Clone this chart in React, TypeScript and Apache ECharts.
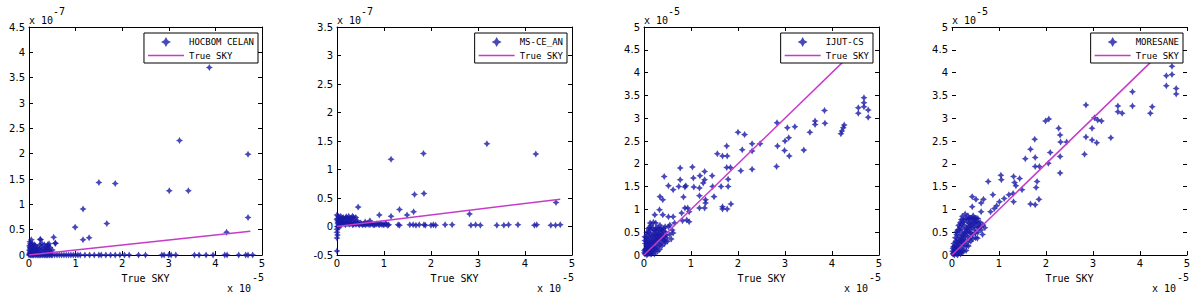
import React, { useEffect, useRef } from "react";
import * as echarts from "echarts";

// ---------- data (display units: x in 1e-5, y in 1e-7 / 1e-5) ----------
const PANEL_NAMES = ["HOCBOM CELAN", "MS-CE_AN", "IJUT-CS", "MORESANE"];
const X_NAME = "True SKY";
const X_TICKS_MIN = 0;
const X_TICKS_MAX = 5;
const X_TICK_STEP = 1;
const Y_MIN = [0, -0.5, 0, 0];
const Y_MAX = [4.5, 3.5, 5, 5];
const Y_STEP = 0.5;
const Y_EXP = ["-7", "-7", "-5", "-5"];
const X_EXP = "-5";

// HOCBOM CELAN
const hocbomPoints = [
  [3.87, 3.7], [3.23, 2.26], [4.7, 1.99], [1.5, 1.43], [1.85, 1.41], [3.01, 1.27], [3.42, 1.27],
  [1.16, 0.91], [1.67, 0.62], [0.99, 0.55], [4.7, 0.74], [4.24, 0.45], [0.53, 0.35], [1.16, 0.3],
  [1.29, 0.34], [0.57, 0.23], [0.25, 0.3],
  [0.02, 0.26], [0.03, 0.22], [0.05, 0.18], [0.08, 0.2], [0.04, 0.12], [0.1, 0.15], [0.13, 0.13],
  [0.15, 0.08], [0.2, 0.05], [0.24, 0.31], [0.27, 0.1], [0.3, 0.06], [0.33, 0.2], [0.38, 0.13],
  [0.41, 0.18], [0.44, 0.1], [0.42, 0.05], [0.36, 0.16], [0.56, 0.23], [0.02, 0.05], [0.06, 0.08],
  [0.1, 0.03], [0.01, 0.1], [0.12, 0.2], [0.18, 0.12], [0.35, 0.03], [0.4, 0.2], [0.05, 0.3],
  [0.45, 0.15], [0.08, 0.02], [0.01, 0.18], [0.02, 0.14],
  [0.01, 0.02], [0.02, 0.08], [0.03, 0.15], [0.04, 0.2], [0.05, 0.06], [0.06, 0.14], [0.07, 0.22],
  [0.09, 0.1], [0.11, 0.06], [0.12, 0.12], [0.14, 0.18], [0.16, 0.04], [0.17, 0.14], [0.19, 0.09],
  [0.22, 0.12], [0.23, 0.2], [0.26, 0.16], [0.28, 0.22], [0.31, 0.12], [0.34, 0.1], [0.37, 0.08],
  [0.39, 0.14], [0.43, 0.22], [0.47, 0.06], [0.5, 0.1], [0.02, 0.02], [0.04, 0.03], [0.07, 0.04],
  [0.15, 0.02], [0.25, 0.03],
];
const hocbomZeroX = [
  0.0, 0.03, 0.05, 0.08, 0.1, 0.13, 0.15, 0.18, 0.2, 0.23, 0.25, 0.28, 0.3, 0.33, 0.35, 0.38, 0.4,
  0.43, 0.45, 0.48, 0.5, 0.55, 0.6, 0.65, 0.7, 0.75, 0.8, 0.85, 0.9, 0.95,
  1.0, 1.05, 1.1, 1.2, 1.3, 1.4, 1.5, 1.55, 1.65, 1.75, 1.85, 1.95, 2.05, 2.15, 2.35, 2.5, 2.85,
  2.9, 3.0, 3.05, 3.15, 3.55, 3.65, 3.8, 3.95, 4.2, 4.25, 4.5, 4.65, 4.7, 4.8,
];
const hocbomTrue = [[0, 0], [4.75, 0.47]];

// MS-CLEAN
const msPoints = [
  [1.15, 1.18], [1.84, 1.28], [4.23, 1.27], [3.19, 1.45], [1.65, 0.56], [1.85, 0.58], [0.45, 0.34],
  [1.33, 0.3], [0.9, 0.2], [1.15, 0.18], [1.49, 0.2], [1.63, 0.26], [2.82, 0.22], [4.66, 0.42],
  [0.0, -0.43],
  [0.02, 0.05], [0.05, 0.03], [0.08, 0.06], [0.1, 0.04], [0.12, 0.08], [0.15, 0.05], [0.18, 0.03],
  [0.2, 0.07], [0.23, 0.05], [0.26, 0.04], [0.3, 0.06], [0.33, 0.03], [0.36, 0.05], [0.4, 0.04],
  [0.44, 0.06], [0.48, 0.03], [0.52, 0.05], [0.56, 0.04], [0.6, 0.03], [0.65, 0.05], [0.7, 0.03],
  [0.75, 0.04], [0.8, 0.03], [0.85, 0.05], [0.9, 0.03], [0.95, 0.04], [1.0, 0.03], [1.05, 0.04],
  [1.1, 0.03],
  [0.03, 0.07], [0.06, 0.06], [0.09, 0.08], [0.11, 0.06], [0.14, 0.07], [0.17, 0.06], [0.19, 0.05],
  [0.22, 0.07], [0.25, 0.06], [0.28, 0.05], [0.32, 0.07], [0.35, 0.04], [0.38, 0.06], [0.42, 0.05],
  [0.46, 0.04], [0.5, 0.06], [0.54, 0.03], [0.58, 0.05], [0.62, 0.04], [0.67, 0.04], [0.72, 0.05],
  [0.78, 0.03], [0.83, 0.04], [0.88, 0.04], [0.93, 0.05], [0.98, 0.03], [1.03, 0.05], [1.08, 0.02],
  [0.02, 0.0], [0.04, -0.02], [0.01, 0.14], [0.03, 0.18], [0.06, 0.12], [0.12, 0.14], [0.18, 0.15],
  [0.26, 0.13], [0.35, 0.16],
  [0.05, 0.15], [0.08, 0.18], [0.1, 0.12], [0.13, 0.16], [0.16, 0.1], [0.2, 0.17], [0.22, 0.13],
  [0.25, 0.18], [0.28, 0.11], [0.3, 0.15], [0.33, 0.18], [0.36, 0.12], [0.4, 0.16], [0.43, 0.1],
  [0.03, 0.1], [0.6, 0.08], [0.7, 0.1],
  [0.0, 0.2], [0.0, 0.12], [0.01, 0.0], [0.0, -0.05], [0.0, -0.1], [0.01, -0.15], [0.0, -0.2],
  [0.02, 0.08],
  [1.3, 0.03], [1.33, 0.02], [1.55, 0.03], [1.62, 0.03], [1.68, 0.02], [1.75, 0.03], [1.85, 0.03],
  [1.88, 0.02], [2.0, 0.02], [2.05, 0.03], [2.1, 0.02], [2.3, 0.03], [2.45, 0.03], [2.85, 0.02],
  [2.95, 0.03], [3.05, 0.02], [3.4, 0.02], [3.55, 0.02], [3.65, 0.03], [3.85, 0.03], [4.2, 0.02],
  [4.25, 0.03], [4.55, 0.02], [4.65, 0.02], [4.75, 0.03],
];
const msTrue = [[0, 0], [4.75, 0.48]];

// IUWT-CS
const iuwtPoints = [
  [4.68, 3.45], [4.68, 3.34], [4.68, 3.25], [4.56, 3.23], [4.56, 3.11], [4.77, 3.18], [4.77, 3.02],
  [4.26, 2.85], [4.24, 2.79], [4.21, 2.72], [4.19, 2.66], [3.84, 3.17], [3.85, 2.89], [3.64, 2.94],
  [3.64, 2.86], [3.53, 2.69], [3.4, 2.3], [3.21, 2.81], [3.05, 2.79], [3.08, 2.57], [3.0, 2.5],
  [2.99, 2.29], [3.09, 2.17], [2.84, 2.39], [2.83, 2.9], [2.82, 1.94], [2.3, 2.44], [2.3, 2.28],
  [2.3, 1.88], [2.47, 2.44], [2.0, 2.69], [2.14, 2.64], [2.09, 2.31], [2.06, 1.85], [1.76, 2.39],
  [1.67, 2.17], [1.77, 2.17], [1.56, 2.22], [1.76, 1.92], [1.84, 1.92], [1.79, 1.66], [1.79, 1.5],
  [1.64, 1.5], [1.67, 1.06], [1.67, 1.01], [1.77, 1.01], [1.85, 1.12], [1.49, 1.28], [1.45, 1.74],
  [1.46, 1.5], [1.29, 1.83], [1.29, 1.65], [1.19, 1.74], [1.18, 1.47], [1.18, 1.3], [1.26, 1.58],
  [1.31, 1.21], [1.31, 1.14], [1.29, 1.03], [1.18, 1.03], [1.03, 1.93], [1.05, 1.69], [1.06, 1.49],
  [0.89, 1.52], [0.87, 1.49], [0.77, 1.65], [0.77, 1.91], [0.74, 1.5], [0.62, 1.43], [0.52, 1.52],
  [0.43, 1.72], [0.84, 1.27], [0.87, 1.03], [0.93, 1.03], [0.96, 0.95], [0.91, 0.77], [0.96, 0.73],
  [0.8, 0.92], [0.82, 0.75], [0.62, 0.84], [0.65, 0.7], [0.52, 0.84], [0.55, 0.66], [0.34, 1.28],
  [0.4, 1.21], [0.33, 0.99], [0.23, 0.88], [0.4, 0.88], [0.2, 0.72], [0.13, 0.7],
  [0.02, 0.02], [0.03, 0.08], [0.05, 0.05], [0.04, 0.15], [0.06, 0.22], [0.08, 0.1], [0.1, 0.04],
  [0.1, 0.18], [0.12, 0.3], [0.12, 0.12], [0.14, 0.25], [0.15, 0.06], [0.16, 0.4], [0.17, 0.18],
  [0.18, 0.33], [0.2, 0.12], [0.2, 0.48], [0.22, 0.24], [0.23, 0.38], [0.24, 0.08], [0.25, 0.55],
  [0.26, 0.3], [0.28, 0.18], [0.28, 0.45], [0.3, 0.6], [0.3, 0.26], [0.32, 0.36], [0.33, 0.12],
  [0.35, 0.5], [0.36, 0.28], [0.38, 0.2], [0.4, 0.42], [0.42, 0.33], [0.44, 0.25], [0.46, 0.5],
  [0.48, 0.38], [0.5, 0.3], [0.08, 0.35], [0.1, 0.5], [0.05, 0.3], [0.14, 0.55], [0.18, 0.6],
  [0.07, 0.45], [0.03, 0.25], [0.01, 0.1], [0.02, 0.4], [0.13, 0.02], [0.06, 0.0], [0.22, 0.15],
  [0.26, 0.6], [0.34, 0.65], [0.38, 0.55], [0.55, 0.45], [0.58, 0.35], [0.52, 0.62], [0.6, 0.55],
  [0.62, 0.48], [0.25, 0.7], [0.15, 0.65], [0.45, 0.62],
  [0.04, 0.04], [0.07, 0.07], [0.09, 0.13], [0.11, 0.08], [0.13, 0.17], [0.15, 0.12], [0.17, 0.24],
  [0.19, 0.2], [0.21, 0.3], [0.23, 0.28], [0.25, 0.35], [0.27, 0.4], [0.29, 0.34], [0.31, 0.45],
  [0.33, 0.42], [0.35, 0.38], [0.37, 0.46], [0.39, 0.35], [0.41, 0.52], [0.43, 0.4], [0.06, 0.12],
  [0.09, 0.25], [0.11, 0.38], [0.13, 0.45], [0.16, 0.3], [0.19, 0.42], [0.21, 0.55], [0.24, 0.45],
  [0.27, 0.52], [0.32, 0.55], [0.01, 0.05], [0.03, 0.12], [0.05, 0.2], [0.07, 0.28], [0.02, 0.32],
  [0.04, 0.38], [0.06, 0.5], [0.09, 0.58], [0.12, 0.6], [0.36, 0.58], [0.42, 0.58], [0.47, 0.44],
  [0.18, 0.08], [0.26, 0.15], [0.34, 0.22], [0.29, 0.08], [0.45, 0.3], [0.16, 0.02], [0.22, 0.02],
  [0.08, 0.02],
];
const iuwtTrue = [[0, 0], [4.75, 4.75]];

// MORESANE
const moresanePoints = [
  [4.68, 4.14], [4.68, 3.96], [4.56, 3.93], [4.56, 3.71], [4.77, 3.65], [4.77, 3.53], [3.84, 3.58],
  [3.84, 3.27], [4.26, 3.25], [4.22, 3.11], [3.53, 3.27], [3.53, 3.14], [3.62, 3.11], [3.38, 2.57],
  [2.85, 3.29], [3.03, 3.01], [3.1, 2.96], [3.18, 2.94], [2.98, 2.78], [2.98, 2.52], [3.08, 2.46],
  [2.85, 2.59], [2.82, 2.21], [1.99, 2.94], [2.06, 2.98], [2.3, 2.63], [2.31, 2.48], [2.44, 2.48],
  [2.27, 2.78], [2.09, 2.25], [2.05, 2.01], [2.3, 2.16], [2.3, 1.8], [1.76, 2.54], [1.67, 2.32],
  [1.77, 2.14], [1.56, 2.11], [1.77, 1.94], [1.86, 1.94], [1.81, 1.61], [1.79, 1.48], [1.85, 1.22],
  [1.67, 1.12], [1.77, 1.1], [1.31, 1.72], [1.44, 1.68], [1.33, 1.59], [1.36, 1.52], [1.49, 1.43],
  [1.3, 1.35], [1.31, 1.17], [1.04, 1.75], [1.05, 1.65], [0.77, 1.61], [0.87, 1.32], [1.21, 1.32],
  [1.11, 1.24], [1.01, 1.17], [0.95, 1.08], [0.9, 1.02], [0.82, 0.95], [0.67, 1.22], [0.62, 1.14],
  [0.51, 1.22], [0.43, 1.28], [0.43, 1.06], [0.62, 0.95], [0.34, 0.86], [0.45, 0.86], [0.66, 0.66],
  [0.54, 0.37], [0.4, 0.48],
  [0.02, 0.02], [0.04, 0.06], [0.05, 0.12], [0.06, 0.2], [0.08, 0.04], [0.09, 0.15], [0.1, 0.28],
  [0.12, 0.1], [0.12, 0.35], [0.14, 0.2], [0.15, 0.42], [0.16, 0.06], [0.18, 0.3], [0.19, 0.5],
  [0.2, 0.15], [0.21, 0.38], [0.22, 0.58], [0.24, 0.25], [0.25, 0.45], [0.26, 0.65], [0.28, 0.32],
  [0.29, 0.52], [0.3, 0.8], [0.31, 0.2], [0.32, 0.6], [0.34, 0.4], [0.35, 0.8], [0.36, 0.7],
  [0.38, 0.5], [0.4, 0.8], [0.4, 0.3], [0.42, 0.6], [0.44, 0.45], [0.45, 0.8], [0.46, 0.7],
  [0.48, 0.55], [0.5, 0.8], [0.5, 0.38], [0.52, 0.65], [0.55, 0.8], [0.55, 0.5], [0.58, 0.6],
  [0.6, 0.72], [0.62, 0.55], [0.2, 0.68], [0.25, 0.78], [0.15, 0.55], [0.1, 0.45], [0.08, 0.3],
  [0.03, 0.18], [0.18, 0.72], [0.28, 0.9], [0.05, 0.0], [0.12, 0.0], [0.2, 0.05], [0.3, 0.1],
  [0.35, 0.2], [0.65, 0.45], [0.7, 0.6], [0.22, 0.85],
  [0.03, 0.03], [0.06, 0.08], [0.07, 0.14], [0.09, 0.09], [0.11, 0.2], [0.13, 0.16], [0.14, 0.28],
  [0.17, 0.24], [0.19, 0.34], [0.21, 0.3], [0.23, 0.42], [0.25, 0.35], [0.27, 0.48], [0.29, 0.42],
  [0.31, 0.56], [0.33, 0.5], [0.35, 0.62], [0.37, 0.56], [0.39, 0.68], [0.41, 0.64], [0.43, 0.72],
  [0.47, 0.62], [0.49, 0.72], [0.53, 0.72], [0.57, 0.7], [0.04, 0.25], [0.07, 0.38], [0.09, 0.5],
  [0.12, 0.55], [0.14, 0.65], [0.17, 0.62], [0.2, 0.78], [0.24, 0.72], [0.32, 0.74], [0.38, 0.8],
  [0.42, 0.8], [0.48, 0.8], [0.52, 0.8], [0.01, 0.08], [0.02, 0.15], [0.15, 0.1], [0.22, 0.1],
  [0.26, 0.2], [0.33, 0.28], [0.38, 0.36], [0.44, 0.35], [0.5, 0.48], [0.56, 0.6], [0.6, 0.62],
  [0.1, 0.02], [0.18, 0.02], [0.25, 0.08],
];
const moresaneTrue = [[0, 0], [4.75, 4.75]];

// ---------- layout / style ----------
const GRIDS = [
  { left: 29, width: 233 },
  { left: 337, width: 235 },
  { left: 644, width: 235 },
  { left: 952, width: 235 },
];
const GRID_TOP = 27;
const GRID_HEIGHT = 228;
const FONT = "DejaVu Sans";
const MONO = "DejaVu Sans Mono";
const POINT_COLOR = "#1a1aa8";
const LINE_COLOR = "#c63cc8";
const STAR = "path://M0,-10 L3.6,-3.6 L10,0 L3.6,3.6 L0,10 L-3.6,3.6 L-10,0 L-3.6,-3.6 Z";
const LINE_ICON = "path://M0,0 L36,0 L36,1.5 L0,1.5 Z";

export default function App() {
  const ref = useRef<HTMLDivElement>(null);

  useEffect(() => {
    if (!ref.current) return;
    const chart = echarts.init(ref.current, null, { renderer: "svg" });

    const scatterData = [
      [...hocbomPoints, ...hocbomZeroX.map((x) => [x, 0])],
      msPoints,
      iuwtPoints,
      moresanePoints,
    ];
    const trueData = [hocbomTrue, msTrue, iuwtTrue, moresaneTrue];
    const legendRight = [942, 633, 327, 17];

    const grid: any[] = [];
    const xAxis: any[] = [];
    const yAxis: any[] = [];
    const series: any[] = [];
    const legend: any[] = [];
    const graphic: any[] = [];

    GRIDS.forEach((g, i) => {
      const noVert = i === 3;
      grid.push({ left: g.left, top: GRID_TOP, width: g.width, height: GRID_HEIGHT, containLabel: false });
      const tick = { show: true, inside: true, length: 4, lineStyle: { color: "#000", width: 1 } };
      const line = (show: boolean) => ({ show, onZero: false, lineStyle: { color: "#000", width: 1 } });
      xAxis.push({
        gridIndex: i, type: "value", position: "bottom",
        min: X_TICKS_MIN, max: X_TICKS_MAX, interval: X_TICK_STEP,
        axisLine: line(true), axisTick: tick, splitLine: { show: false },
        axisLabel: { margin: 3, fontSize: 10, color: "#000", fontFamily: FONT },
        name: X_NAME, nameLocation: "middle", nameGap: 18,
        nameTextStyle: { fontSize: 10, color: "#000", fontFamily: MONO },
      });
      xAxis.push({
        gridIndex: i, type: "value", position: "top",
        min: X_TICKS_MIN, max: X_TICKS_MAX, interval: X_TICK_STEP,
        axisLine: line(true), axisTick: tick, splitLine: { show: false },
        axisLabel: { show: false },
      });
      yAxis.push({
        gridIndex: i, type: "value", position: "left",
        min: Y_MIN[i], max: Y_MAX[i], interval: Y_STEP,
        axisLine: line(!noVert), axisTick: tick, splitLine: { show: false },
        axisLabel: { margin: 4, fontSize: 10, color: "#000", fontFamily: FONT },
      });
      yAxis.push({
        gridIndex: i, type: "value", position: "right",
        min: Y_MIN[i], max: Y_MAX[i], interval: Y_STEP,
        axisLine: line(!noVert), axisTick: tick, splitLine: { show: false },
        axisLabel: { show: false },
      });
      series.push({
        type: "scatter", name: PANEL_NAMES[i], xAxisIndex: 2 * i, yAxisIndex: 2 * i,
        data: scatterData[i], symbol: STAR, symbolSize: [7, 7], symbolKeepAspect: true,
        itemStyle: { color: POINT_COLOR }, z: 2,
      });
      series.push({
        type: "line", name: X_NAME, xAxisIndex: 2 * i, yAxisIndex: 2 * i,
        data: trueData[i], symbol: "none", showSymbol: false,
        lineStyle: { color: LINE_COLOR, width: 1.5 }, itemStyle: { color: LINE_COLOR }, z: 3,
      });
      legend.push({
        orient: "vertical", right: legendRight[i], top: 33,
        backgroundColor: "#fff", borderColor: "#000", borderWidth: 1, borderRadius: 0,
        padding: [4, 4, 3, 4], itemGap: 4, itemWidth: 36, itemHeight: 10,
        selectedMode: false, symbolKeepAspect: true,
        textStyle: { fontSize: 9, color: "#000", fontFamily: MONO },
        data: [
          { name: PANEL_NAMES[i], icon: STAR, itemStyle: { color: POINT_COLOR } },
          { name: X_NAME, icon: LINE_ICON, itemStyle: { color: LINE_COLOR } },
        ],
      });
      const right = g.left + g.width;
      graphic.push(
        { type: "text", x: g.left, y: 20, style: { text: "x 10", font: `10px ${MONO}`, fill: "#000", verticalAlign: "middle", align: "left" } },
        { type: "text", x: g.left + 24, y: 11, style: { text: Y_EXP[i], font: `10px ${MONO}`, fill: "#000", verticalAlign: "middle", align: "left" } },
        { type: "text", x: right - 11, y: 288, style: { text: "x 10", font: `10px ${MONO}`, fill: "#000", verticalAlign: "middle", align: "right" } },
        { type: "text", x: right - 10, y: 277, style: { text: X_EXP, font: `10px ${MONO}`, fill: "#000", verticalAlign: "middle", align: "left" } },
      );
    });

    chart.setOption({
      animation: false,
      backgroundColor: "#fff",
      grid, xAxis, yAxis, series, legend, graphic,
    });

    return () => chart.dispose();
  }, []);

  return (
    <div
      ref={ref}
      style={{ position: "absolute", left: 0, top: 0, width: 1200, height: 299 }}
    />
  );
}
